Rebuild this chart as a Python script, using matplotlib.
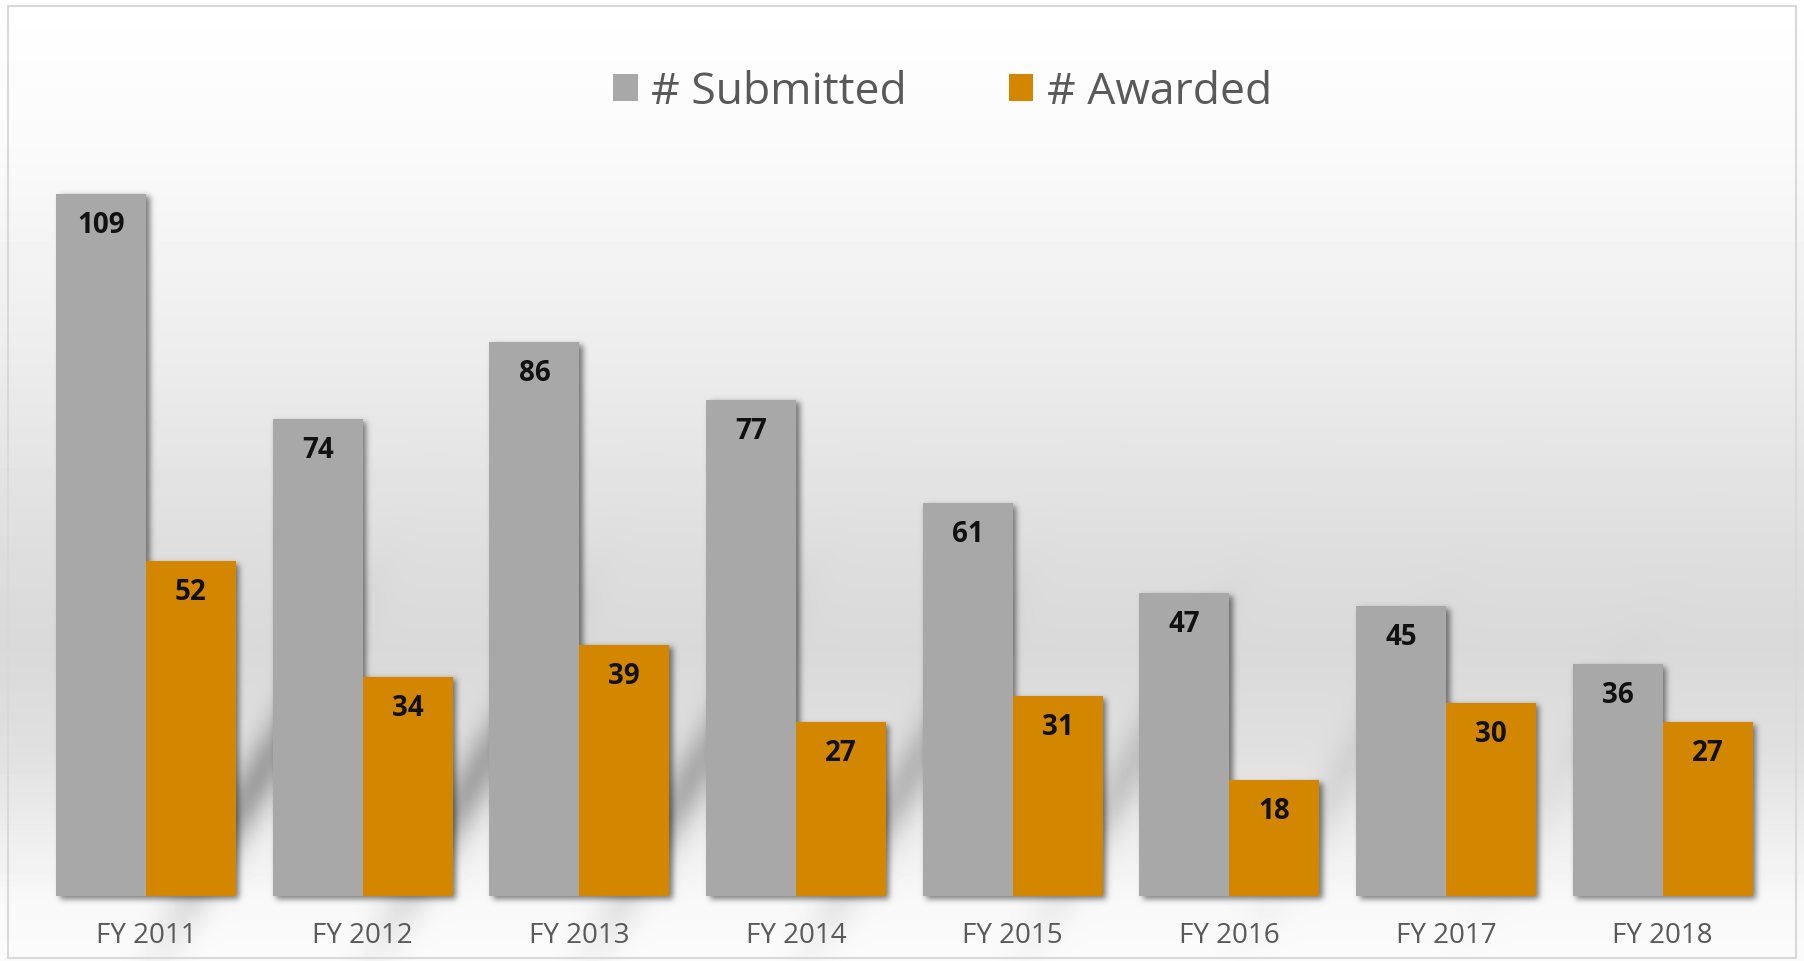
import numpy as np
import matplotlib.pyplot as plt
from matplotlib import font_manager
from matplotlib.patches import Rectangle

# data
years = ['FY 2011', 'FY 2012', 'FY 2013', 'FY 2014', 'FY 2015', 'FY 2016', 'FY 2017', 'FY 2018']
submitted = [109, 74, 86, 77, 61, 47, 45, 36]
awarded = [52, 34, 39, 27, 31, 18, 30, 27]

GRAY = '#a8a8a8'
ORANGE = '#d38700'
W, H = 1804, 962

names = {f.name for f in font_manager.fontManager.ttflist}
font = 'Open Sans' if 'Open Sans' in names else 'DejaVu Sans'
plt.rcParams['font.family'] = [font, 'DejaVu Sans']

fig = plt.figure(figsize=(W / 100, H / 100), dpi=100)

# plot area (pixels -> figure fraction)
ax = fig.add_axes([37.7 / W, 65 / H, (1771 - 37.7) / W, 773 / H], zorder=2)
ax.set_xlim(-0.5, len(years) - 0.5)
ax.set_ylim(0, 120)
ax.patch.set_alpha(0)

x = np.arange(len(years))
w = 0.415
b1 = ax.bar(x - w / 2, submitted, w, color=GRAY, label='# Submitted', zorder=3)
b2 = ax.bar(x + w / 2, awarded, w, color=ORANGE, label='# Awarded', zorder=3)

for bars in (b1, b2):
    for r in bars:
        ax.annotate(str(int(r.get_height())), (r.get_x() + r.get_width() / 2, r.get_height()),
                    xytext=(0, -22), textcoords='offset points', ha='center', va='center',
                    fontsize=20, fontweight='bold', color='#111111', zorder=4)

ax.set_xticks(x, years)
ax.tick_params(axis='x', length=0, pad=18, labelsize=20, labelcolor='#595959')
ax.set_yticks([])
for s in ax.spines.values():
    s.set_visible(False)

fig.legend(handles=[b1, b2], loc='center', bbox_to_anchor=(942.5 / W, 1 - 93 / H),
           ncol=2, frameon=False, fontsize=32, labelcolor='#595959',
           handlelength=0.55, handleheight=0.55, handletextpad=0.3, columnspacing=2.3)

# background: vertical gradient + soft swoosh + blurred bar shadows
ys = np.arange(H)
lev = np.interp(ys, [0, 150, 350, 550, 650, 750, 850, 900, 962],
                [255, 250, 237, 222, 217, 224, 240, 248, 251]) / 255
img = np.tile(lev[:, None], (1, W))
X, Y = np.meshgrid(np.arange(W), ys)

dark = np.zeros((H, W))
strength = [0.3, 0.28, 0.25, 0.2, 0.14, 0.07, 0.03]
for k, st in enumerate(strength):
    xb = ax.transData.transform((k + 0.5, 0))[0]
    c = 785 - 1.6 * (X - xb)
    dark += st * np.exp(-((Y - c) / 42) ** 2) * np.exp(-((X - xb) / 70) ** 2)
img *= 1 - dark


def blur(a, sigma):
    r = int(3 * sigma)
    k = np.exp(-0.5 * (np.arange(-r, r + 1) / sigma) ** 2)
    k /= k.sum()
    a = np.apply_along_axis(lambda v: np.convolve(v, k, mode='same'), 0, a)
    a = np.apply_along_axis(lambda v: np.convolve(v, k, mode='same'), 1, a)
    return a


mask = np.zeros((H, W))
for bars in (b1, b2):
    for r in bars:
        (px0, py0) = ax.transData.transform((r.get_x(), 0))
        (px1, py1) = ax.transData.transform((r.get_x() + r.get_width(), r.get_height()))
        dx, dy = 4, 3
        mask[int(H - py1) + dy:int(H - py0) + dy, int(px0) + dx:int(px1) + dx] = 1
mask = blur(mask, 3.0)
img *= 1 - 0.5 * mask

bg = fig.add_axes([0, 0, 1, 1], zorder=0)
bg.imshow(img, cmap='gray', vmin=0, vmax=1, extent=(0, W, H, 0), aspect='auto',
          interpolation='nearest')
bg.add_patch(Rectangle((8, 7), W - 16, H - 10, fill=False, ec='#d9d9d9', lw=1.5))
bg.set_xlim(0, W)
bg.set_ylim(H, 0)
bg.axis('off')

fig.savefig('out.png', dpi=100)
